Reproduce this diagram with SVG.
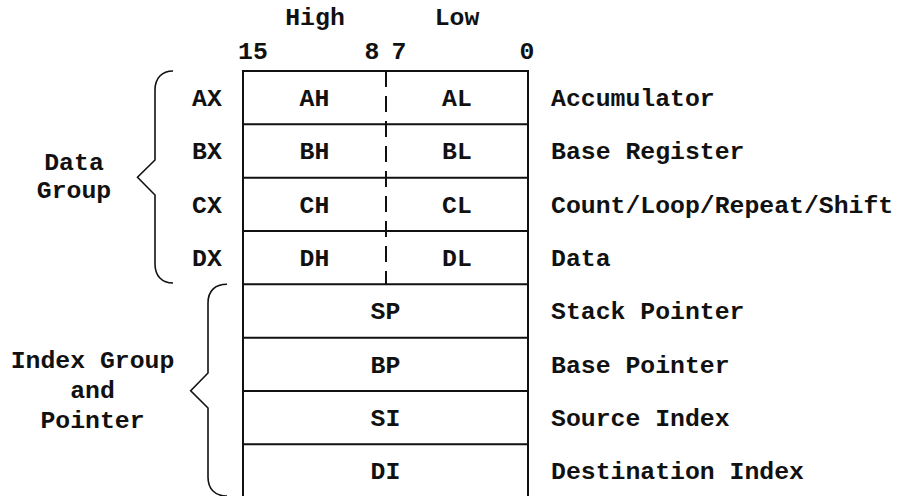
<svg xmlns="http://www.w3.org/2000/svg" width="897" height="496" viewBox="0 0 897 496">
<style>
text{font-family:"Liberation Mono","Courier New",monospace;font-weight:bold;font-size:24.8px;fill:#111}
.c{text-anchor:middle}
.box{fill:none;stroke:#111;stroke-width:2}
.brace{fill:none;stroke:#111;stroke-width:1.6;stroke-linejoin:miter}
.dash{stroke:#111;stroke-width:2;stroke-dasharray:16 9}
</style>
<rect width="897" height="496" fill="#fff"/>
<g id="header">
<text class="c" x="315" y="25">High</text>
<text class="c" x="457" y="25">Low</text>
<text class="c" x="253" y="59">15</text>
<text class="c" x="372" y="59">8</text>
<text class="c" x="399" y="59">7</text>
<text class="c" x="527" y="59">0</text>
</g>
<g id="connectors">
<line class="dash" x1="386" y1="71" x2="386" y2="284.3"/>
</g>
<g id="box">
<path class="box" d="M243,498 V71 H528 V498 M243,124.3 H528 M243,177.7 H528 M243,231 H528 M243,284.3 H528 M243,337.7 H528 M243,391 H528 M243,444.3 H528"/>
</g>
<g id="reg-ax"><text class="c" x="207" y="106">AX</text><text class="c" x="314.5" y="106">AH</text><text class="c" x="457" y="106">AL</text><text x="551" y="106">Accumulator</text></g>
<g id="reg-bx"><text class="c" x="207" y="159.3">BX</text><text class="c" x="314.5" y="159.3">BH</text><text class="c" x="457" y="159.3">BL</text><text x="551" y="159.3">Base Register</text></g>
<g id="reg-cx"><text class="c" x="207" y="212.7">CX</text><text class="c" x="314.5" y="212.7">CH</text><text class="c" x="457" y="212.7">CL</text><text x="551" y="212.7">Count/Loop/Repeat/Shift</text></g>
<g id="reg-dx"><text class="c" x="207" y="266">DX</text><text class="c" x="314.5" y="266">DH</text><text class="c" x="457" y="266">DL</text><text x="551" y="266">Data</text></g>
<g id="reg-sp"><text class="c" x="385.5" y="319.3">SP</text><text x="551" y="319.3">Stack Pointer</text></g>
<g id="reg-bp"><text class="c" x="385.5" y="372.7">BP</text><text x="551" y="372.7">Base Pointer</text></g>
<g id="reg-si"><text class="c" x="385.5" y="426">SI</text><text x="551" y="426">Source Index</text></g>
<g id="reg-di"><text class="c" x="385.5" y="479.3">DI</text><text x="551" y="479.3">Destination Index</text></g>
<g id="data-group">
<path class="brace" d="M173,71 C162,71 155,78 155,90 V160 L137.5,177.3 L155,195 V264 C155,276 162,283 173,283"/>
<text class="c" x="74" y="170">Data</text>
<text class="c" x="74" y="198">Group</text>
</g>
<g id="index-group">
<path class="brace" d="M227,284.3 C215,284.3 208,291 208,303 V373 L190.7,390.7 L208,408 V477 C208,489 215,496 227,496"/>
<text class="c" x="92.5" y="368">Index Group</text>
<text class="c" x="92.5" y="398">and</text>
<text class="c" x="92.5" y="428">Pointer</text>
</g>
</svg>
